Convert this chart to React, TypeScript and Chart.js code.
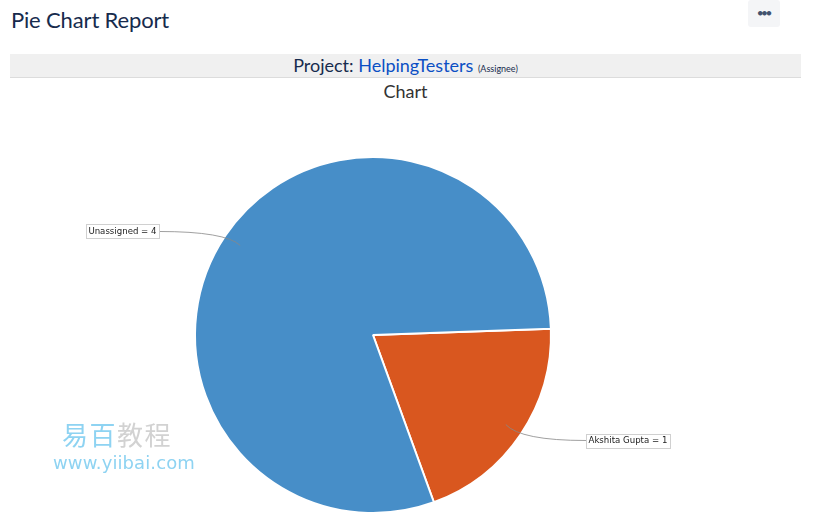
import React, { useEffect, useRef } from "react";
import { Chart, registerables } from "chart.js";

Chart.register(...registerables);

const categories = ["Akshita Gupta", "Unassigned"];
const counts = [1, 4];
const sliceColors = ["#d9571f", "#478ec8"];

const labelPlugin = {
  id: "leaderLabels",
  afterDatasetsDraw(chart: any) {
    const ctx = chart.ctx as CanvasRenderingContext2D;
    const meta = chart.getDatasetMeta(0);
    meta.data.forEach((arc: any, i: number) => {
      const { x, y, startAngle, endAngle, outerRadius } = arc.getProps(
        ["x", "y", "startAngle", "endAngle", "outerRadius"],
        true
      );
      const mid = (startAngle + endAngle) / 2;
      const c = Math.cos(mid);
      const s = Math.sin(mid);
      const r = outerRadius;
      const sx = x + c * r * 0.9;
      const sy = y + s * r * 0.9;
      const right = c >= 0;
      const lx = right ? x + r + 35 : x - r - 36;
      const ly = y + s * r * 1.05 + 1;
      const cpx = x + c * r * 1.0;
      const cpy = ly;
      ctx.save();
      ctx.strokeStyle = "#888";
      ctx.lineWidth = 0.8;
      ctx.beginPath();
      ctx.moveTo(sx, sy);
      ctx.quadraticCurveTo(cpx, cpy, lx, ly);
      ctx.stroke();
      const text = `${categories[i]} = ${counts[i]}`;
      ctx.font = "8.6px 'DejaVu Sans'";
      const w = ctx.measureText(text).width + 5;
      const h = 14;
      const bx = right ? lx : lx - w;
      const by = ly - h / 2;
      ctx.fillStyle = "#ffffff";
      ctx.fillRect(bx, by, w, h);
      ctx.strokeStyle = "#d0d0d0";
      ctx.lineWidth = 1;
      ctx.strokeRect(Math.round(bx) + 0.5, Math.round(by) + 0.5, Math.round(w), h);
      ctx.fillStyle = "#222";
      ctx.textBaseline = "middle";
      ctx.textAlign = "left";
      ctx.fillText(text, bx + 2.5, ly + 0.5);
      ctx.restore();
    });
  },
};

export default function App() {
  const canvasRef = useRef<HTMLCanvasElement | null>(null);

  useEffect(() => {
    document.body.style.margin = "0";
    const chart = new Chart(canvasRef.current as HTMLCanvasElement, {
      type: "pie",
      data: {
        labels: categories,
        datasets: [
          {
            data: counts,
            backgroundColor: sliceColors,
            borderColor: "#ffffff",
            borderWidth: 2,
          },
        ],
      },
      options: {
        animation: false,
        responsive: false,
        rotation: 88,
        layout: { padding: { left: 184, right: 249, top: 56, bottom: 18 } },
        plugins: {
          legend: { display: false },
          tooltip: { enabled: false },
          title: { display: false },
        },
      },
      plugins: [labelPlugin],
    });
    return () => chart.destroy();
  }, []);

  return (
    <div style={{ position: "relative", width: 814, height: 532, background: "#fff", overflow: "hidden", fontFamily: "Lato, sans-serif" }}>
      <div style={{ position: "absolute", left: 11, top: 4, fontSize: 22, color: "#172b4d", lineHeight: "32px", letterSpacing: -0.15 }}>
        Pie Chart Report
      </div>
      <div style={{ position: "absolute", left: 748, top: 0, width: 32, height: 27, background: "#f4f5f7", borderRadius: 3, display: "flex", alignItems: "center", justifyContent: "center", color: "#42526e", fontWeight: 700, fontSize: 9, lineHeight: "10px", letterSpacing: -1 }}>
        <span style={{ marginTop: -1 }}>●●●</span>
      </div>
      <div style={{ position: "absolute", left: 10, top: 54, width: 791, height: 23, background: "#f0f0f0", borderBottom: "1px solid #dcdcdc", textAlign: "center", lineHeight: "23px", color: "#172b4d", fontSize: 18 }}>
        Project: <span style={{ color: "#0b4fc4" }}>HelpingTesters</span>{" "}
        <span style={{ fontSize: 9 }}>(Assignee)</span>
      </div>
      <div style={{ position: "absolute", left: 10, top: 80, width: 791, textAlign: "center", fontSize: 18, color: "#333", lineHeight: "22px" }}>
        Chart
      </div>
      <canvas ref={canvasRef} width={791} height={432} style={{ position: "absolute", left: 10, top: 100 }} />
      <div style={{ position: "absolute", left: 62, top: 418, fontSize: 26, lineHeight: "32px", fontFamily: "'Noto Sans CJK SC', sans-serif", letterSpacing: 1.5 }}>
        <span style={{ color: "#8ed3f2" }}>易百</span>
        <span style={{ color: "#d2d2d2" }}>教程</span>
      </div>
      <div style={{ position: "absolute", left: 53, top: 452, fontSize: 18, lineHeight: "22px", color: "#8ed3f2", fontFamily: "'DejaVu Sans', sans-serif", letterSpacing: 0.1 }}>
        www.yiibai.com
      </div>
    </div>
  );
}
